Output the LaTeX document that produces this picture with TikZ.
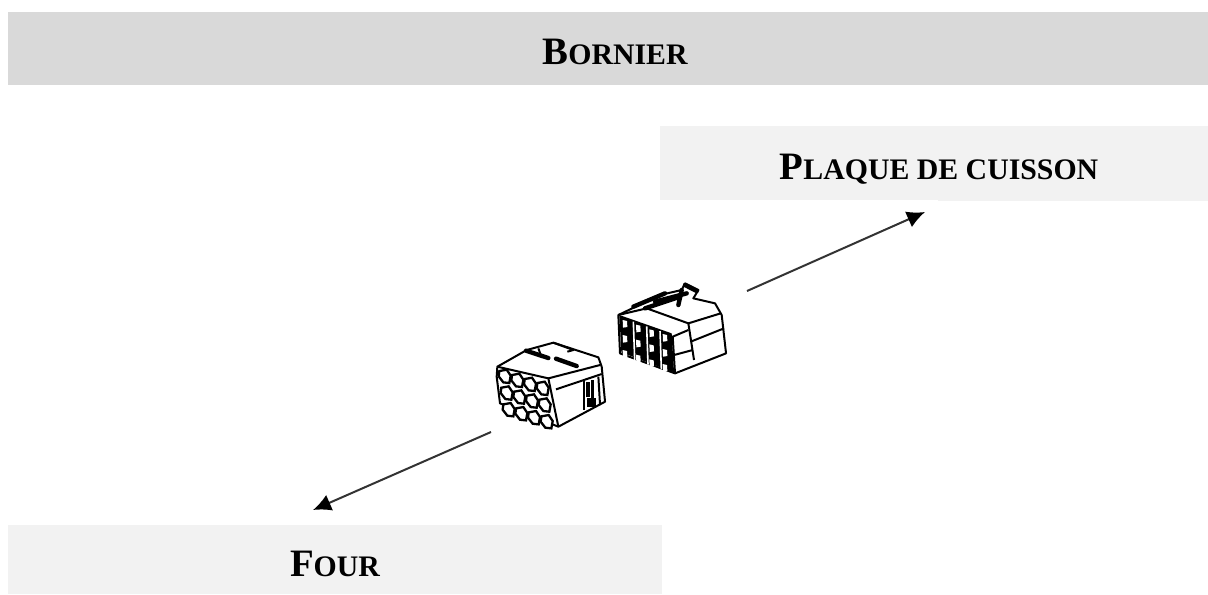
\documentclass[tikz,border=0pt]{standalone}
\usepackage{fontspec}
\setmainfont{Liberation Serif}
\usetikzlibrary{arrows.meta}
\newcommand{\bigc}[1]{{\fontsize{19.4}{22}\selectfont #1}}
\newcommand{\smc}[1]{{\fontsize{14.9}{22}\selectfont #1}}
\definecolor{barA}{HTML}{D9D9D9}
\definecolor{barB}{HTML}{F2F2F2}
\tikzset{
  x=0.5pt,y=-0.5pt,
  bartext/.style={font=\bfseries,text=black,inner sep=0pt,anchor=base},
  arrowline/.style={draw=black!80,line width=1pt,-{Latex[length=9pt,width=8.5pt,color=black]}},
  ln/.style={draw=black,line width=1pt,line join=round},
  thk/.style={draw=black,line width=2.2pt,line cap=round},
  hole/.style={draw=black,line width=1.15pt,fill=white}
}
\begin{document}
\begin{tikzpicture}
\useasboundingbox (0,0) rectangle (1208,594);
\fill[barA] (8,12) rectangle (1208,85);
\fill[barB] (660,126) rectangle (1208,200);
\fill[barB] (938,200) rectangle (1208,201);
\fill[barB] (8,525) rectangle (662,594);
\node[bartext] (bornier) at (615,64) {\bigc{B}\smc{ORNIER}};
\node[bartext] (plaque) at (939,179) {\bigc{P}\smc{LAQUE DE CUISSON}};
\node[bartext] (four) at (335,576) {\bigc{F}\smc{OUR}};
\coordinate (upA) at (747,291);
\coordinate (upB) at (925,212);
\coordinate (dnA) at (491,432);
\coordinate (dnB) at (313,510);
\draw[arrowline] (upA) -- (upB);
\draw[arrowline] (dnA) -- (dnB);
% left connector
\begin{scope}[shift={(480,270)},x=0.1667pt,y=-0.1667pt]
\draw[ln,fill=white] (52,290) -- (140,240) -- (220,218) -- (355,262) -- (365,290) -- (375,395) -- (235,470) -- (60,400) -- (50,320) -- cycle;
\draw[ln] (52,290) -- (205,325) -- (235,470);
\draw[ln] (205,325) -- (360,285);
\draw[ln] (228,358) -- (365,312);
\draw[ln] (175,235) -- (185,262);
\draw[ln] (220,218) -- (280,240) -- (262,245);
\draw[thk] (138,242) -- (205,264);
\draw[thk] (228,266) -- (290,288);
\foreach \c in {0,1,2,3} \foreach \r in {0,1,2} {
  \draw[hole,shift={(72+\c*38+\r*6,315+\r*50+\c*12)}] (-14,-12) -- (8,-16) -- (20,2) -- (16,24) -- (-2,22) -- (-16,4) -- cycle;
}
\fill[black] (318,335) rectangle (330,380);
\fill[black] (333,330) rectangle (342,395);
\fill[black] (322,385) rectangle (348,412);
\draw[ln] (312,330) -- (312,420);
\draw[ln] (355,320) -- (360,405);
\end{scope}
% right connector
\begin{scope}[shift={(600,265)},x=0.1667pt,y=-0.1667pt]
\draw[ln,fill=white] (55,150) -- (180,90) -- (245,75) -- (255,55) -- (295,75) -- (280,100) -- (345,115) -- (365,150) -- (378,265) -- (225,325) -- (60,265) -- cycle;
\draw[ln] (55,150) -- (140,130) -- (265,175) -- (282,285);
\draw[ln] (265,175) -- (362,145);
\draw[ln] (272,230) -- (372,190);
\draw[ln] (225,325) -- (218,215) -- (265,195);
\draw[ln] (222,270) -- (278,255);
\draw[thk] (100,125) -- (195,85);
\draw[thk] (135,130) -- (240,95);
\draw[thk] (165,110) -- (260,85);
\draw[thk] (245,75) -- (235,120);
\draw[thk] (255,60) -- (290,78);
\fill[black] (58,150) -- (215,205) -- (222,322) -- (64,262) -- cycle;
\foreach \c in {0,1,2,3} \foreach \r in {0,1,2} {
  \fill[white,shift={(75+\c*40,175+\r*45+\c*14)}] (-7,-10) -- (6,-7) -- (7,11) -- (-6,13) -- cycle;
}
\foreach \k in {0,1,2} \draw[white,line width=0.8pt] (100+\k*40,170+\k*14) -- (104+\k*40,285+\k*14);
\end{scope}
\end{tikzpicture}
\end{document}
